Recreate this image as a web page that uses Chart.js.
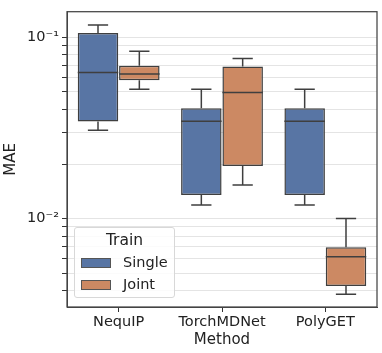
<!DOCTYPE html>
<html>
<head>
<meta charset="utf-8">
<script src="https://cdn.jsdelivr.net/npm/chart.js@4.4.1/dist/chart.umd.min.js"></script>
<style>
  body { margin: 0; background: #fff; }
  .wrap { position: relative; width: 382px; height: 353px; }
  .legend {
    position: absolute; left: 74px; top: 227px; width: 101px; height: 71px;
    border: 1px solid #d8d8d8; border-radius: 3px; background: rgba(255,255,255,0.85);
    font-family: "DejaVu Sans", sans-serif; color: #222; box-sizing: border-box;
  }
  .legend .title { position: absolute; top: 3px; width: 100%; text-align: center; font-size: 15.5px; }
  .legend .item { position: absolute; left: 6px; font-size: 14.5px; height: 18px; line-height: 18px; }
  .legend .sw { display: inline-block; width: 30px; height: 10px; border: 1px solid #555; vertical-align: middle; margin-right: 12px; box-sizing: border-box; }
</style>
</head>
<body>
<div class="wrap">
  <canvas id="boxChart" width="382" height="353"></canvas>
  <div class="legend">
    <div class="title">Train</div>
    <div class="item" style="top:25px"><span class="sw" style="background:#5875a4"></span>Single</div>
    <div class="item" style="top:47px"><span class="sw" style="background:#cc8963"></span>Joint</div>
  </div>
</div>
<script>
const methods = ["NequIP", "TorchMDNet", "PolyGET"];

// box stats (log scale)
const singleLo = [0.0307, 0.0119, 0.0119];
const singleQ1 = [0.0343, 0.0135, 0.0135];
const singleMed = [0.0641, 0.0345, 0.0345];
const singleQ3 = [0.1059, 0.0406, 0.0406];
const singleHi = [0.117, 0.0518, 0.0518];

const jointLo = [0.0517, 0.0153, 0.00382];
const jointQ1 = [0.0581, 0.0195, 0.00425];
const jointMed = [0.0628, 0.0496, 0.00616];
const jointQ3 = [0.0697, 0.0691, 0.00694];
const jointHi = [0.084, 0.0766, 0.0100];

const yTicks = [0.004, 0.005, 0.006, 0.007, 0.008, 0.009, 0.01,
  0.02, 0.03, 0.04, 0.05, 0.06, 0.07, 0.08, 0.09, 0.1];
const yLabels = { "0.1": "10\u207B\u00B9", "0.01": "10\u207B\u00B2" };

const whiskers = [
  { lo: singleLo, med: singleMed, hi: singleHi, q1: singleQ1, q3: singleQ3 },
  { lo: jointLo, med: jointMed, hi: jointHi, q1: jointQ1, q3: jointQ3 },
];

const edge = "#3f3f3f";
const font = "'DejaVu Sans', sans-serif";

const boxPlugin = {
  id: "boxParts",
  afterDatasetsDraw(chart) {
    const ctx = chart.ctx;
    const y = chart.scales.y;
    ctx.save();
    ctx.strokeStyle = edge;
    ctx.lineWidth = 1.5;
    whiskers.forEach((w, di) => {
      chart.getDatasetMeta(di).data.forEach((bar, i) => {
        const x = bar.x, half = bar.width / 2;
        const pMed = y.getPixelForValue(w.med[i]);
        const pQ1 = y.getPixelForValue(w.q1[i]);
        const pQ3 = y.getPixelForValue(w.q3[i]);
        const pLo = y.getPixelForValue(w.lo[i]);
        const pHi = y.getPixelForValue(w.hi[i]);
        ctx.beginPath();
        ctx.moveTo(x - half, pMed); ctx.lineTo(x + half, pMed);
        ctx.moveTo(x, pQ3); ctx.lineTo(x, pHi);
        ctx.moveTo(x - half / 2, pHi); ctx.lineTo(x + half / 2, pHi);
        ctx.moveTo(x, pQ1); ctx.lineTo(x, pLo);
        ctx.moveTo(x - half / 2, pLo); ctx.lineTo(x + half / 2, pLo);
        ctx.stroke();
      });
    });
    ctx.restore();
  },
  afterDraw(chart) {
    const a = chart.chartArea;
    const ctx = chart.ctx;
    ctx.save();
    ctx.strokeStyle = "#444";
    ctx.lineWidth = 1.25;
    ctx.strokeRect(a.left, a.top, a.right - a.left, a.bottom - a.top);
    ctx.restore();
  },
};

new Chart(document.getElementById("boxChart"), {
  type: "bar",
  data: {
    labels: methods,
    datasets: [
      {
        label: "Single",
        data: singleQ1.map((v, i) => [v, singleQ3[i]]),
        backgroundColor: "#5875a4",
      },
      {
        label: "Joint",
        data: jointQ1.map((v, i) => [v, jointQ3[i]]),
        backgroundColor: "#cc8963",
      },
    ],
  },
  options: {
    responsive: false,
    animation: false,
    layout: { padding: { top: 5, right: 5, left: 0, bottom: 0 } },
    datasets: {
      bar: {
        borderColor: edge,
        borderWidth: 1.5,
        borderSkipped: false,
        categoryPercentage: 0.8,
        barPercentage: 0.98,
      },
    },
    plugins: { legend: { display: false }, tooltip: { enabled: false } },
    scales: {
      x: {
        grid: { offset: false, drawOnChartArea: false, tickLength: 5, tickColor: "#333" },
        border: { color: "#444" },
        ticks: { color: "#222", font: { family: font, size: 14.5 }, padding: 2 },
        title: { display: true, text: "Method", color: "#222", font: { family: font, size: 15 }, padding: { top: 0 } },
        afterFit: (s) => { s.height = 46; },
      },
      y: {
        type: "logarithmic",
        min: 0.00325,
        max: 0.1387,
        afterBuildTicks: (s) => { s.ticks = yTicks.map((v) => ({ value: v })); },
        grid: { color: "#e4e4e4", tickLength: 5, tickColor: "#333" },
        border: { color: "#444" },
        ticks: {
          autoSkip: false,
          color: "#222",
          padding: 3,
          font: { family: font, size: 14.5 },
          callback: (v) => yLabels[String(v)] || "",
        },
        title: { display: true, text: "MAE", color: "#222", font: { family: font, size: 15 }, padding: { top: 2, bottom: 0 } },
        afterFit: (s) => { s.width = 67; },
      },
    },
  },
  plugins: [boxPlugin],
});
</script>
</body>
</html>
